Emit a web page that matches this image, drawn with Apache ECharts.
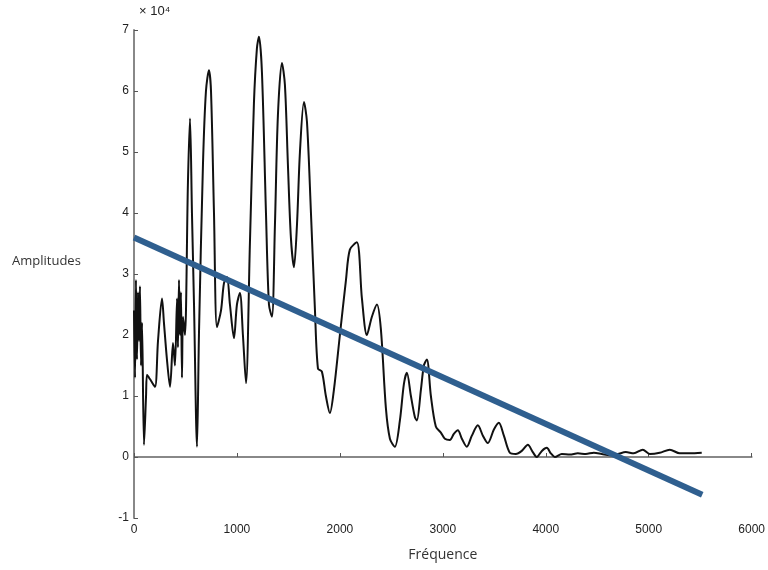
<!DOCTYPE html>
<html>
<head>
<meta charset="utf-8">
<script src="https://cdn.jsdelivr.net/npm/echarts@6/dist/echarts.min.js"></script>
<style>
  html, body { margin: 0; padding: 0; background: #fff; }
  #chart { width: 768px; height: 570px; }
</style>
</head>
<body>
<div id="chart"></div>
<script>
// spectre : [fréquence, amplitude (x10^4)]
const spectrum = [
  [0, 2.4], [10, 1.3], [19, 2.9], [29, 1.6], [39, 2.7], [49, 1.9], [58, 2.8], [68, 1.5], [78, 2.2],
  [97, 0.2], [117, 1.0], [126, 1.35], [146, 1.3], [165, 1.25], [204, 1.15], [233, 1.9], [272, 2.6],
  [291, 2.2], [320, 1.6], [350, 1.15], [379, 1.87], [398, 1.5], [418, 2.6], [427, 1.8], [437, 2.9],
  [447, 2.0], [456, 2.7], [466, 1.3], [476, 2.3], [495, 2.0], [524, 4.5], [544, 5.55], [563, 4.0],
  [583, 2.5], [612, 0.17], [631, 2.0], [670, 4.8], [699, 6.0], [728, 6.34], [748, 6.0], [777, 4.0],
  [806, 2.13], [845, 2.4], [874, 2.85], [903, 2.95], [932, 2.5], [971, 1.95], [1000, 2.5], [1029, 2.69],
  [1058, 2.0], [1088, 1.21], [1126, 3.5], [1165, 5.8], [1194, 6.7], [1214, 6.89], [1243, 6.3],
  [1282, 4.0], [1311, 2.5], [1340, 2.3], [1369, 3.8], [1398, 5.6], [1437, 6.46], [1466, 6.1],
  [1495, 4.8], [1524, 3.6], [1554, 3.11], [1583, 3.8], [1612, 5.0], [1651, 5.82], [1680, 5.5],
  [1719, 4.0], [1758, 2.4], [1787, 1.45], [1825, 1.4], [1864, 1.0], [1903, 0.72], [1942, 1.1],
  [2000, 2.0], [2059, 2.9], [2097, 3.4], [2165, 3.52], [2214, 2.6], [2262, 2.0], [2311, 2.3],
  [2360, 2.5], [2398, 2.1], [2447, 0.8], [2486, 0.3], [2534, 0.17], [2583, 0.6], [2622, 1.2],
  [2651, 1.38], [2690, 1.0], [2729, 0.65], [2748, 0.6], [2787, 1.1], [2816, 1.5], [2845, 1.6],
  [2884, 1.0], [2932, 0.5], [2981, 0.4], [3020, 0.3], [3068, 0.28], [3107, 0.38], [3146, 0.44],
  [3185, 0.3], [3233, 0.17], [3282, 0.35], [3340, 0.52], [3389, 0.35], [3437, 0.23], [3496, 0.45],
  [3544, 0.56], [3593, 0.35], [3651, 0.07], [3709, 0.05], [3767, 0.1], [3826, 0.2], [3874, 0.08],
  [3913, 0.0], [3962, 0.1], [4010, 0.15], [4049, 0.06], [4088, 0.0], [4156, 0.05], [4234, 0.04],
  [4311, 0.06], [4389, 0.05], [4467, 0.07], [4544, 0.05], [4622, 0.03], [4700, 0.05], [4777, 0.08],
  [4855, 0.06], [4942, 0.12], [5010, 0.05], [5107, 0.07], [5205, 0.12], [5302, 0.06], [5399, 0.06],
  [5515, 0.07]
];

// droite de tendance
const trend = [[0, 3.6], [5520, -0.62]];

const xTicks = [0, 1000, 2000, 3000, 4000, 5000, 6000];
const yTicks = [-1, 0, 1, 2, 3, 4, 5, 6, 7];

const chart = echarts.init(document.getElementById('chart'), null, { renderer: 'canvas' });

const axisFont = { color: '#222', fontSize: 12, fontFamily: 'Liberation Sans Narrow, Liberation Sans' };

chart.setOption({
  backgroundColor: '#fff',
  animation: false,
  grid: { left: 134, right: 16, top: 30, bottom: 52 },
  xAxis: {
    type: 'value',
    min: xTicks[0],
    max: xTicks[xTicks.length - 1],
    interval: 1000,
    name: 'Fréquence',
    nameLocation: 'middle',
    nameGap: 30,
    nameTextStyle: { color: '#333', fontSize: 14, fontFamily: 'Open Sans' },
    axisLine: { lineStyle: { color: '#888', width: 2 } },
    axisTick: { inside: true, length: 4, lineStyle: { color: '#555' } },
    axisLabel: Object.assign({ margin: 6, formatter: v => String(v) }, axisFont),
    splitLine: { show: false }
  },
  yAxis: {
    type: 'value',
    min: yTicks[0],
    max: yTicks[yTicks.length - 1],
    interval: 1,
    axisLine: { show: true, lineStyle: { color: '#888', width: 2 } },
    axisTick: { show: true, inside: true, length: 4, lineStyle: { color: '#555' } },
    axisLabel: Object.assign({ margin: 5 }, axisFont),
    splitLine: { show: false }
  },
  graphic: [
    {
      type: 'text', left: 12, top: 255,
      style: { text: 'Amplitudes', fill: '#333', font: '13px "Open Sans"' }
    },
    {
      type: 'text', left: 139, top: 5,
      style: { text: '× 10⁴', fill: '#222', font: '13px "Liberation Sans"' }
    }
  ],
  series: [
    {
      type: 'line',
      data: spectrum,
      showSymbol: false,
      smooth: 0.3,
      lineStyle: { color: '#111', width: 2 },
      z: 2
    },
    {
      type: 'line',
      data: trend,
      showSymbol: false,
      lineStyle: { color: '#2f5f8f', width: 6 },
      z: 3
    }
  ]
});
</script>
</body>
</html>
